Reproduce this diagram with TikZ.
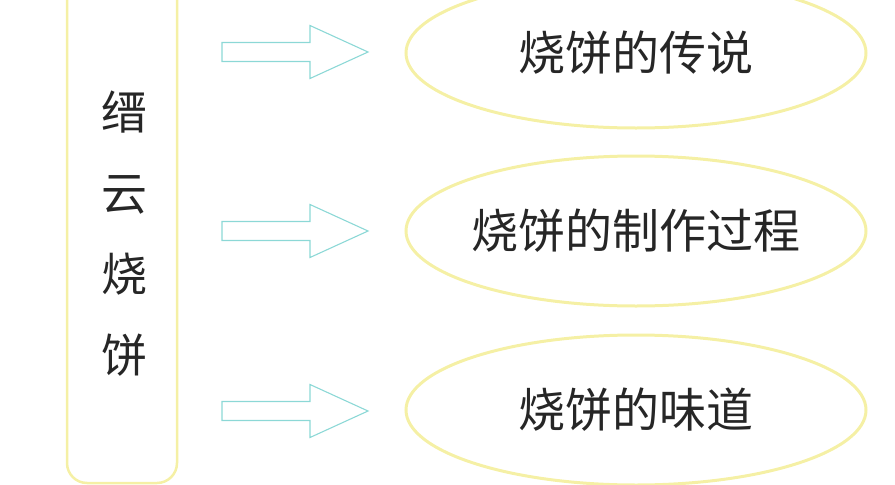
\documentclass[tikz,border=0pt]{standalone}
\usepackage{fontspec}
\newfontfamily\cjk{Noto Sans CJK SC}
\usepackage{tikz}
\usetikzlibrary{shapes.geometric,calc}
\definecolor{paleyellow}{RGB}{245,240,165}
\definecolor{palecyan}{RGB}{140,216,214}
\tikzset{
	topic/.style={ellipse,draw=paleyellow,line width=3pt,minimum width=460pt,minimum height=150pt,inner ysep=0pt,inner xsep=-60pt,font=\cjk\fontsize{47pt}{50pt}\selectfont,text=black!85},
	sidebox/.style={draw=paleyellow,line width=2.5pt,rounded corners=20pt,minimum width=110pt,minimum height=520pt},
	bigarrow/.style={draw=palecyan,line width=1.1pt,line join=miter}
}

\begin{document}
\begin{tikzpicture}[x=1pt,y=-1pt]
				\useasboundingbox (0,0) rectangle (895,485);
				\clip (0,0) rectangle (895,485);
				\node[sidebox] (side) at (122,223) {};
				\node[font=\cjk\fontsize{46pt}{81pt}\selectfont,align=center,text=black!85] (title) at (124,234) {缙\\云\\烧\\饼};
				\node[topic] (legend) at (636,53) {烧饼的传说};
				\node[topic] (make) at (636,231) {烧饼的制作过程};
				\node[topic] (taste) at (636,410) {烧饼的味道};
				% hollow arrows between the box and the ellipses
				\foreach \y in {52,231,411}{
					\draw[bigarrow] (222,\y-9.5) -- (310,\y-9.5) -- (310,\y-26.5) -- (368,\y) -- (310,\y+26.5) -- (310,\y+9.5) -- (222,\y+9.5) -- cycle;
				}
			\end{tikzpicture}
\end{document}
